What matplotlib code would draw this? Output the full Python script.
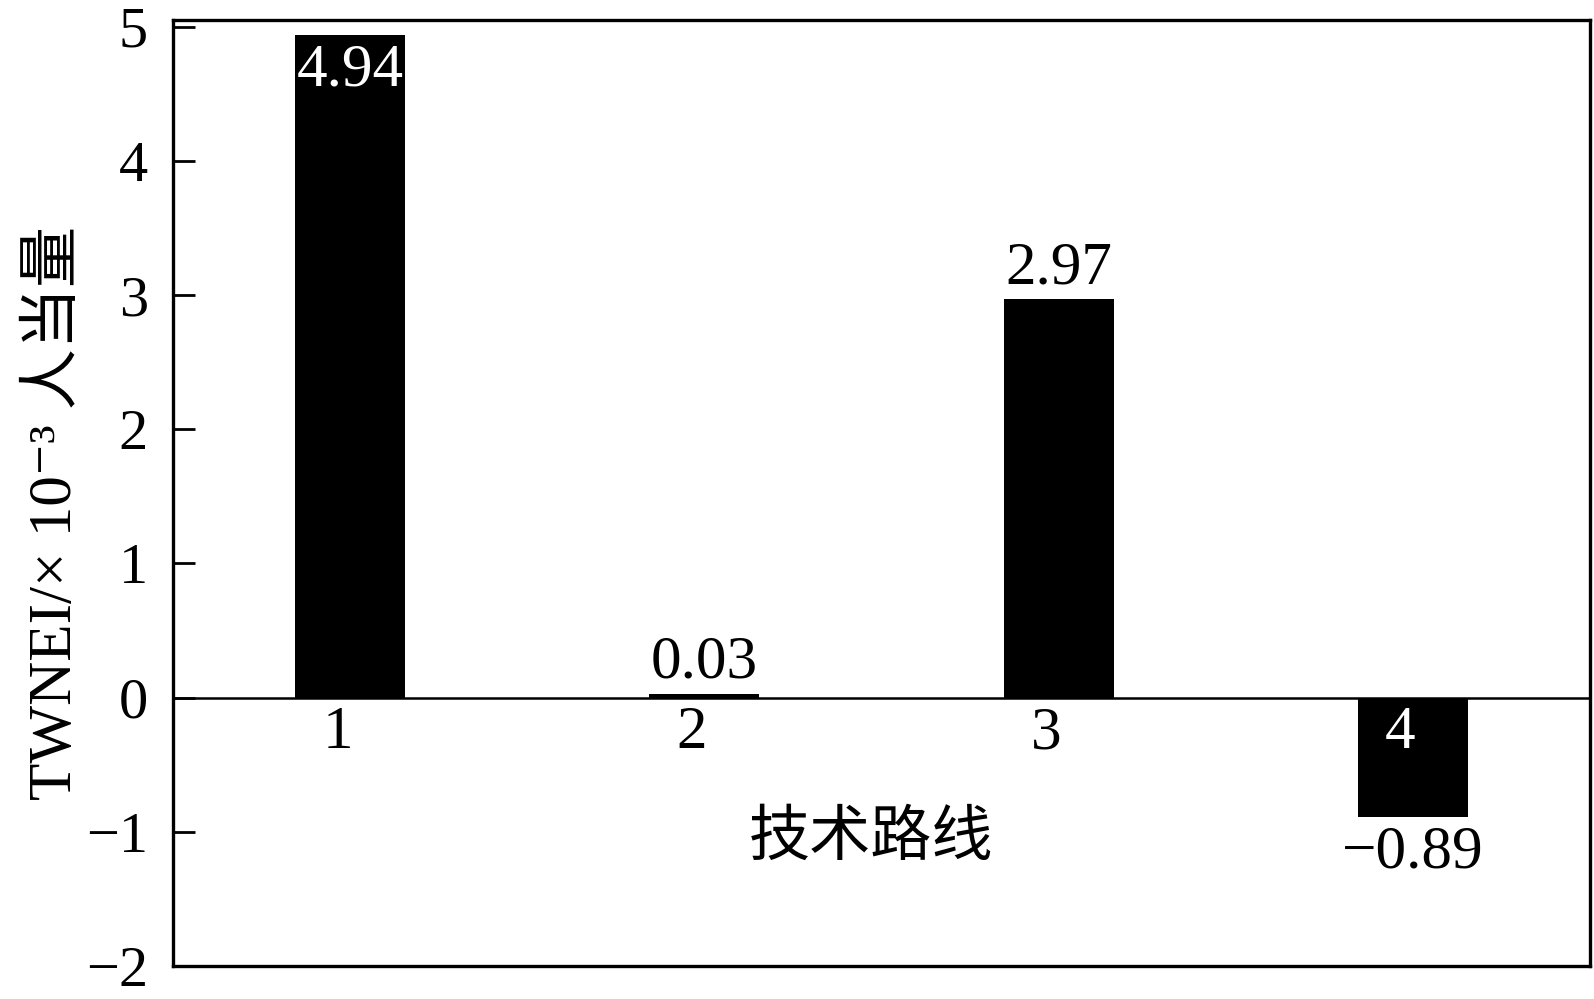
import matplotlib
matplotlib.use("Agg")
import matplotlib.pyplot as plt

routes = [1, 2, 3, 4]
route_labels = ["1", "2", "3", "4"]
twnei = [4.94, 0.03, 2.97, -0.89]
value_labels = ["4.94", "0.03", "2.97", "\u22120.89"]
yticks = [-2, -1, 0, 1, 2, 3, 4, 5]

serif = ["Liberation Serif", "DejaVu Serif", "Noto Sans CJK SC"]
cjk = ["Noto Sans CJK SC", "Liberation Serif"]

fig = plt.figure(figsize=(15.94, 9.99), dpi=100)
ax = fig.add_axes([0.1085, 0.033, 0.889, 0.947])

ax.bar(routes, twnei, width=0.31, color="black")
ax.axhline(0, color="black", linewidth=1.8)

ax.set_xlim(0.5, 4.5)
ax.set_ylim(-2, 5.05)
ax.set_xticks([])
ax.set_yticks(yticks)
ax.set_yticklabels([str(t).replace("-", "\u2212") for t in yticks],
                   fontfamily=serif, fontsize=42)
ax.tick_params(axis="y", direction="in", length=16, width=2, pad=18)
for sp in ax.spines.values():
    sp.set_linewidth(2.4)

# route numbers just below the zero line
for x, lab, v in zip(routes, route_labels, twnei):
    col = "white" if v < 0 else "black"
    ax.text(x - 0.035, -0.06, lab, ha="center", va="top", fontsize=44,
            fontfamily=serif, color=col)

# value labels
for x, lab, v in zip(routes, value_labels, twnei):
    if v > 4:
        ax.text(x, v - 0.06, lab, ha="center", va="top", fontsize=44,
                fontfamily=serif, color="white")
    elif v >= 0:
        ax.text(x, v + 0.02, lab, ha="center", va="bottom", fontsize=44,
                fontfamily=serif, color="black")
    else:
        ax.text(x, v - 0.06, lab, ha="center", va="top", fontsize=44,
                fontfamily=serif, color="black")

ax.text(2.47, -1.04, "技术路线", ha="center", va="center", fontsize=44,
        fontfamily=cjk)

fig.text(0.035, 0.487, "TWNEI/\u00d7 10\u207b\u00b3 人当量", rotation=90,
         ha="center", va="center", fontsize=44, fontfamily=serif)

fig.savefig("out.png", dpi=100)
